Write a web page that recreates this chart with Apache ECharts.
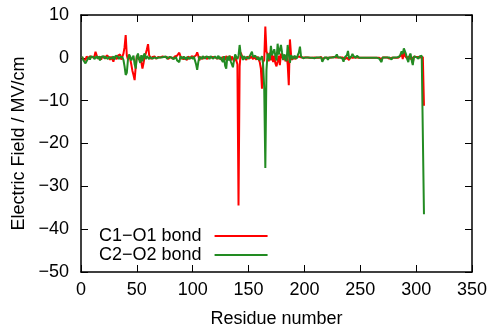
<!DOCTYPE html>
<html>
<head>
<meta charset="utf-8">
<script src="https://cdn.jsdelivr.net/npm/echarts@6/dist/echarts.min.js"></script>
<style>
  html, body { margin: 0; padding: 0; background: #fff; }
  #chart { width: 491px; height: 329px; }
</style>
</head>
<body>
<div id="chart"></div>
<script>
// electric field per residue (MV/cm), residues 1..307
const c1o1 = [
  0.2, -0.3, 0.1, -0.5, 0.3, 0.1, -0.2, 0.4, 0.2, 0.1,
  -0.1, 0.3, 1.4, 0.6, -0.2, 0.1, 0.3, -0.4, 0.2, 0.1,
  0.3, -0.2, 0.6, 0.9, 0.2, -0.5, 0.3, 0.6, -0.9, 0.2,
  0.4, -0.3, 0.5, 0.2, 0.8, -0.4, 0.3, 1.0, 2.5, 5.3,
  0.6, -0.4, 0.5, -0.2, -1.5, -3.0, -4.0, -5.2, -2.0, 0.5,
  0.3, -0.4, 0.2, -1.0, -2.5, -1.2, 0.4, 1.0, 2.0, 3.2,
  0.6, 0.2, -0.3, 0.2, 0.1, 0.3, -0.2, 0.1, 0.2, 0.1,
  0.1, -0.2, 0.3, 0.1, 0.2, -0.1, 0.2, -0.3, 0.1, 0.2,
  0.2, -0.2, 0.1, 0.3, 0.2, 0.5, 0.9, 1.2, 0.4, -0.3,
  0.2, -0.4, 0.1, 0.2, -0.5, 0.3, 0.1, -0.2, 0.4, 0.1,
  0.2, 0.4, 0.6, 1.3, 0.5, -0.6, 0.2, 0.3, -0.2, 0.1,
  0.2, 0.1, -0.3, 0.2, 0.3, 0.1, 0.5, 0.2, -0.2, 0.1,
  0.3, -0.2, 0.2, 0.1, -0.4, -0.6, 0.2, 0.1, -0.5, 0.4,
  0.2, -0.3, 0.5, -0.6, 0.3, 0.2, -0.8, 0.4, -0.6, -1.5,
  -34.5, -2.0, 1.2, 0.5, -0.3, 0.2, 0.4, -0.5, 0.3, 0.2,
  -0.2, 0.4, 0.3, -0.3, 0.2, 0.5, -0.4, 0.3, 0.6, -1.0,
  -2.5, -7.2, -1.0, -0.5, 7.3, 1.5, 0.8, -0.8, 1.2, -0.6,
  0.6, -1.0, 0.5, -1.3, -2.0, -0.8, 0.5, -1.7, 1.0, 0.4,
  -0.4, 0.6, -0.8, 0.7, -1.5, -6.4, 4.3, 0.8, -0.5, 0.3,
  0.5, -0.3, 0.2, 0.6, 0.3, 0.2, 0.1, -0.2, 0.1, 0.2,
  0.1, 0.0, 0.1, 0.1, 0.0, 0.1, 0.0, 0.2, 0.1, 0.0,
  0.0, 0.1, 0.0, 0.1, 0.2, -0.3, 0.1, 0.0, 0.1, 0.0,
  0.1, 0.0, -0.1, 0.1, 0.0, 0.2, 0.0, 0.1, -0.2, 0.1,
  0.0, 0.1, 0.0, 0.1, 0.0, -0.3, 0.1, 0.0, 0.4, -0.5,
  0.2, 0.1, 0.0, 0.3, 0.1, 0.0, 0.1, 0.2, 0.0, 0.1,
  0.0, 0.1, 0.0, 0.1, 0.0, 0.1, 0.0, 0.1, 0.0, 0.1,
  0.0, 0.1, 0.0, 0.1, 0.0, 0.1, 0.0, 0.1, -0.4, 0.1,
  0.0, 0.1, 0.0, 0.1, 0.0, -0.2, 0.1, 0.0, 0.1, 0.0,
  0.1, 0.0, 0.1, 0.0, 0.3, 0.5, 1.0, -0.3, 1.6, 0.4,
  0.2, -0.2, 0.3, 0.1, -0.3, 0.2, -1.2, 0.3, 0.1, 0.2,
  0.1, 0.2, 0.3, 0.1, 0.4, 0.2, -11.2
];
const c2o2 = [
  0.3, -0.5, -0.8, -1.3, -1.0, -0.3, 0.2, -0.4, 0.3, 0.1,
  0.2, -0.3, 0.1, 0.4, -0.2, 0.3, -0.6, 0.2, 0.1, 0.4,
  -0.2, 0.3, 0.1, -0.3, 0.2, 0.5, -0.2, 0.1, 0.3, -0.4,
  0.5, 0.7, 0.3, -0.3, 0.2, 0.6, 0.2, -0.5, -2.0, -4.0,
  -3.5, -0.5, 0.8, 0.3, -0.6, -0.3, 0.5, -1.5, -2.5, 0.3,
  1.0, -0.4, -1.2, 0.6, -0.8, 0.5, 1.0, -0.3, 0.4, 0.2,
  -0.3, 0.2, 0.1, -0.2, 0.2, 0.1, 0.3, -0.1, 0.2, 0.1,
  0.2, 0.1, -0.3, 0.2, 0.1, 0.3, -0.2, 0.1, 0.2, -0.1,
  0.1, 0.2, -0.3, 0.1, 0.2, -0.6, -0.2, -1.0, 0.3, 0.2,
  -0.2, 0.3, 0.1, -0.4, 0.2, 0.3, -0.3, 0.2, 0.4, -0.2,
  0.3, -0.6, -1.5, -2.8, -1.0, 0.3, 0.2, -0.3, 0.4, 0.1,
  -0.2, 0.3, 0.1, 0.2, -0.3, 0.4, 0.2, -0.2, 0.1, 0.3,
  0.2, -0.2, 0.5, -0.3, 0.2, -0.5, -1.0, 0.4, -1.8, -2.5,
  0.3, -0.6, 0.5, -0.8, -1.5, -2.2, -0.5, 0.8, 0.2, -0.3,
  0.5, 3.0, 0.8, 0.3, -0.5, 0.4, -0.3, 0.2, 0.5, -0.2,
  0.4, 0.3, 1.4, 0.2, -0.2, 0.5, 0.3, -0.4, 0.2, -0.6,
  -0.8, 0.4, -1.5, -7.0, -25.7, -3.0, 1.0, 0.5, -0.5, 2.8,
  0.6, 1.0, 2.0, 0.4, -0.6, 3.3, 0.8, 0.6, 3.0, 1.2,
  -0.5, 0.8, 1.0, -0.8, 3.0, 1.0, -1.2, 0.6, 0.4, -0.3,
  0.5, 0.3, -0.2, 0.6, 1.2, 2.6, 0.3, 0.1, -0.1, 0.1,
  0.1, 0.0, 0.1, -0.1, 0.0, 0.1, 0.0, 0.1, -0.1, 0.0,
  0.1, 0.0, 0.1, 0.0, 0.1, -0.9, -0.4, 0.1, 0.0, 0.1,
  -0.5, 0.1, 0.0, 0.1, 0.0, 0.1, 0.0, 0.3, 0.8, 0.1,
  0.0, 0.1, 0.0, -0.2, -0.9, 0.1, 0.3, 0.6, 1.6, -0.2,
  0.1, 0.3, 0.9, 0.4, 0.1, 0.0, 0.5, 0.1, 0.0, 0.1,
  0.0, 0.1, 0.0, 0.1, 0.0, 0.1, 0.0, 0.1, 0.0, 0.1,
  0.0, 0.1, 0.0, 0.1, 0.0, 0.1, -0.2, -0.4, -1.0, 0.1,
  0.0, 0.1, 0.0, 0.1, 0.0, 0.1, 0.0, -0.4, 0.1, 0.0,
  0.1, 0.0, 0.1, 0.2, 0.3, 0.8, 1.5, 0.9, 2.2, 2.6,
  0.8, -0.3, -1.0, 0.5, 1.0, -0.6, -1.7, 0.3, 0.1, 0.2,
  0.1, -0.2, 0.3, 0.2, 0.5, 0.4, -36.5
];
const seriesNames = ["C1\u2212O1 bond", "C2\u2212O2 bond"];
const xTicks = { min: 0, max: 350, interval: 50 };
const yTicks = { min: -50, max: 10, interval: 10 };

const font = "Liberation Sans";
const minus = v => (v < 0 ? "\u2212" + Math.abs(v) : String(v));
const pairs = vals => vals.map((v, i) => [i + 1, v]);

const frame = { show: true, onZero: false, lineStyle: { color: "#000", width: 1.5 } };
const tick = { show: true, inside: true, length: 7, lineStyle: { color: "#000", width: 1 } };
const label = { color: "#000", fontFamily: font, fontSize: 18 };

const chart = echarts.init(document.getElementById("chart"));
chart.setOption({
  animation: false,
  backgroundColor: "#fff",
  grid: { left: 81, right: 19, top: 15, bottom: 57, containLabel: false, outerBoundsMode: "none" },
  legend: {
    orient: "vertical", left: 94, top: 222, align: "right",
    icon: "rect", itemWidth: 53, itemHeight: 2, itemGap: 1,
    textStyle: { color: "#000", fontFamily: font, fontSize: 18, lineHeight: 18, padding: [0, 8, 0, 0] },
    data: seriesNames,
  },
  xAxis: [
    { type: "value", position: "bottom", ...xTicks, axisLine: frame, axisTick: tick, splitLine: { show: false },
      axisLabel: { ...label, margin: 9 },
      name: "Residue number", nameLocation: "middle", nameGap: 38, nameTextStyle: label },
    { type: "value", position: "top", ...xTicks, axisLine: frame, axisTick: tick, splitLine: { show: false },
      axisLabel: { show: false } },
  ],
  yAxis: [
    { type: "value", position: "left", ...yTicks, axisLine: frame, axisTick: tick, splitLine: { show: false },
      axisLabel: { ...label, margin: 12, formatter: minus },
      name: "Electric Field / MV/cm", nameLocation: "middle", nameGap: 53, nameTextStyle: label },
    { type: "value", position: "right", ...yTicks, axisLine: frame, axisTick: tick, splitLine: { show: false },
      axisLabel: { show: false } },
  ],
  series: [
    { name: seriesNames[0], type: "line", data: pairs(c1o1), showSymbol: false, symbol: "none",
      lineStyle: { color: "#ff0000", width: 2 }, itemStyle: { color: "#ff0000" } },
    { name: seriesNames[1], type: "line", data: pairs(c2o2), showSymbol: false, symbol: "none",
      lineStyle: { color: "#228b22", width: 2 }, itemStyle: { color: "#228b22" } },
  ],
});
</script>
</body>
</html>
